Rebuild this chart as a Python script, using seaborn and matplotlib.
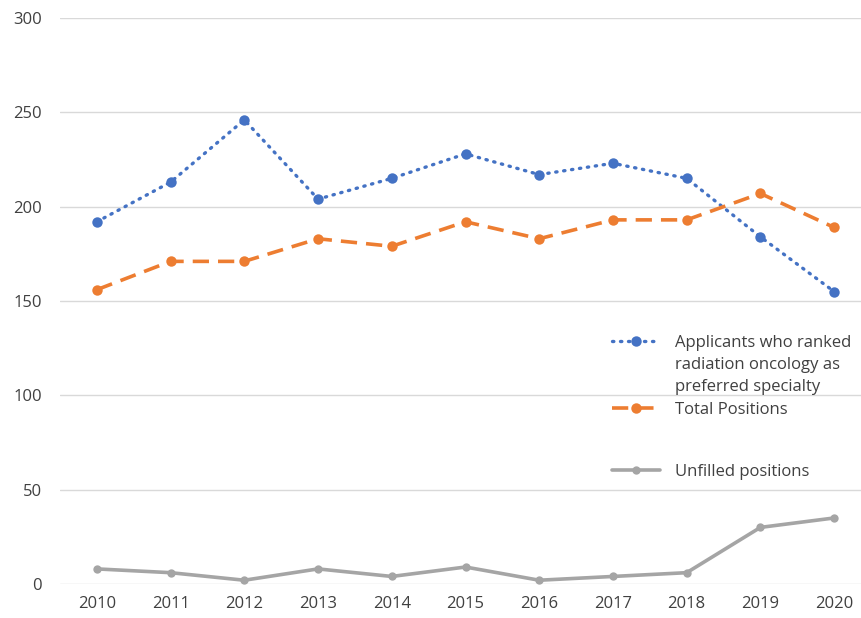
import matplotlib
matplotlib.use('Agg')
import matplotlib.pyplot as plt
from matplotlib.lines import Line2D
import seaborn as sns
import pandas as pd

# --- data ---
years = [2010, 2011, 2012, 2013, 2014, 2015, 2016, 2017, 2018, 2019, 2020]
applicants = [192, 213, 246, 204, 215, 228, 217, 223, 215, 184, 155]
total_positions = [156, 171, 171, 183, 179, 192, 183, 193, 193, 207, 189]
unfilled = [8, 6, 2, 8, 4, 9, 2, 4, 6, 30, 35]

label_app = ['Applicants who ranked', 'radiation oncology as', 'preferred specialty']
label_tot = 'Total Positions'
label_unf = 'Unfilled positions'

df = pd.DataFrame({'year': years, 'applicants': applicants,
                   'total': total_positions, 'unfilled': unfilled})

sns.set_theme(style='white')
plt.rcParams['font.family'] = ['Open Sans', 'DejaVu Sans']
txt_color = '#404040'

fig = plt.figure(figsize=(8.62, 6.18), dpi=100)
# axes runs slightly past the right edge, like the original export
ax = fig.add_axes([60 / 862, 34 / 618, 811 / 862, 566 / 618])

sns.lineplot(data=df, x='year', y='applicants', ax=ax, color='#4472C4',
             linewidth=2.4, linestyle=(0, (0.4, 2.0)), dash_capstyle='round',
             marker='o', markersize=7.5, markeredgewidth=0)
sns.lineplot(data=df, x='year', y='total', ax=ax, color='#ED7D31',
             linewidth=2.6, linestyle=(0, (4.5, 2.5)),
             marker='o', markersize=7.5, markeredgewidth=0)
sns.lineplot(data=df, x='year', y='unfilled', ax=ax, color='#A5A5A5',
             linewidth=2.6, marker='o', markersize=6, markeredgewidth=0)

ax.set_xlim(2009.5, 2020.5)
ax.set_ylim(0, 300)
ax.set_xticks(years)
ax.set_yticks(range(0, 301, 50))
ax.set_xlabel('')
ax.set_ylabel('')
ax.tick_params(axis='both', length=0, labelsize=12, colors=txt_color)
ax.tick_params(axis='y', pad=13)
ax.tick_params(axis='x', pad=9)
ax.yaxis.grid(True, color='#D9D9D9', linewidth=1)
ax.xaxis.grid(False)
for s in ax.spines.values():
    s.set_visible(False)

lines = ax.get_lines()
blank = Line2D([], [], alpha=0)
leg1 = ax.legend([lines[0], blank, blank, lines[1]],
                 label_app + [label_tot], loc='upper left',
                 bbox_to_anchor=(612 / 862, 1 - 335 / 618),
                 bbox_transform=fig.transFigure,
                 frameon=False, fontsize=12, handlelength=2.9,
                 handletextpad=0.9, labelspacing=0.37, borderaxespad=0,
                 borderpad=0, labelcolor=txt_color)
ax.add_artist(leg1)
ax.legend([lines[2]], [label_unf], loc='upper left',
          bbox_to_anchor=(612 / 862, 1 - 464 / 618),
          bbox_transform=fig.transFigure,
          frameon=False, fontsize=12, handlelength=2.9,
          handletextpad=0.9, borderaxespad=0, borderpad=0,
          labelcolor=txt_color)

fig.savefig('out.png', dpi=100)
